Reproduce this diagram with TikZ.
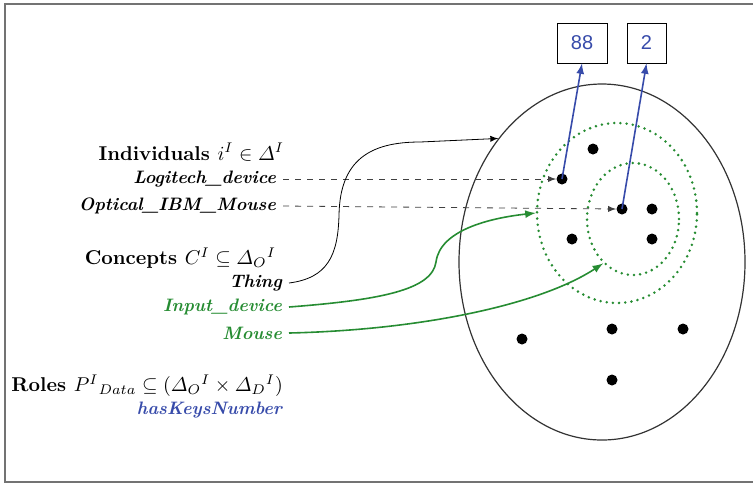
\documentclass[tikz,border=0pt]{standalone}
\usepackage{amsmath}
\usepackage{fontspec}
\newfontfamily\valuefont{Liberation Sans}
\usetikzlibrary{shapes.geometric,arrows,positioning}
\definecolor{conceptgreen}{RGB}{38,140,50}
\definecolor{rolesblue}{RGB}{55,75,170}
\tikzset{dot/.style={circle,fill=black,draw=none,minimum size=5.5pt,inner sep=0pt},
         heading/.style={anchor=east,font=\bfseries},
         member/.style={anchor=east,font=\small\bfseries\itshape},
         valuebox/.style={rectangle,draw,text=rolesblue,font=\valuefont,minimum height=20pt,inner sep=2pt},
         domain set/.style={ellipse,draw=black!80,semithick,inner sep=0pt},
         concept set/.style={ellipse,draw=conceptgreen,line width=1.4pt,dash pattern=on 0pt off 3.1pt,line cap=round,inner sep=0pt},
         instance edge/.style={dashed,black!75,-latex},
         concept edge/.style={conceptgreen,thick,-latex},
         role edge/.style={rolesblue,thick,-latex},
}

\begin{document}
\begin{tikzpicture}[x=0.5pt,y=-0.5pt]
\useasboundingbox (0,0) rectangle (753,484);
% open frame
\draw[black!55,line width=1pt] (753,3.5) -- (4.5,3.5) -- (4.5,482) -- (753,482);

% interpretation domain and concept extensions
\node[domain set,minimum width=143pt,minimum height=178pt] (domain) at (602,262) {};
\node[concept set,minimum width=80pt,minimum height=90pt] (input set) at (617,213) {};
\node[concept set,minimum width=46pt,minimum height=56pt] (mouse set) at (633,219) {};

% individuals
\node[dot] (d1) at (593,149) {};
\node[dot] (logi dot) at (562,179) {};
\node[dot] (ibm dot) at (622,209) {};
\node[dot] (d4) at (652,209) {};
\node[dot] (d5) at (572,239) {};
\node[dot] (d6) at (652,239) {};
\node[dot] (d7) at (522,339) {};
\node[dot] (d8) at (612,329) {};
\node[dot] (d9) at (683,329) {};
\node[dot] (d10) at (612,380) {};

% data values
\node[valuebox,minimum width=25pt] (v88) at (582,43) {88};
\node[valuebox,minimum width=19.5pt] (v2) at (646.5,43) {2};

% labels on the left
\node[heading] (ind) at (291,152) {Individuals $i^I\in\varDelta^I$};
\node[member] (logi) at (283,179) {Logitech\_device};
\node[member] (ibm) at (283,206) {Optical\_IBM\_Mouse};
\node[heading] (conc) at (283,258) {Concepts $C^I\subseteq\varDelta_O{}^I$};
\node[member] (thing) at (289,283) {Thing};
\node[member,text=conceptgreen] (input) at (289,307) {Input\_device};
\node[member,text=conceptgreen] (mouse) at (289,333) {Mouse};
\node[heading] (roles) at (290,386) {Roles $P^I{}_{Data}\subseteq(\varDelta_O{}^I\times\varDelta_D{}^I)$};
\node[member,text=rolesblue] (haskeys) at (289,410) {hasKeysNumber};

% connectors
\draw[instance edge] (logi.east) -- (logi dot.west);
\draw[instance edge] (ibm.east) -- (ibm dot.west);
\draw[-latex] (thing.east) .. controls (328,278) and (338,255) .. (339,215)
    .. controls (340,160) and (370,142) .. (420,142) -- (domain.130);
\draw[concept edge] (input.east) .. controls (380,300) and (432,290) .. (436,262)
    .. controls (440,230) and (490,218) .. (input set.180);
\draw[concept edge] (mouse.east) .. controls (420,330) and (540,305) .. (mouse set.236);
\draw[role edge] (logi dot.center) -- (v88.south);
\draw[role edge] (ibm dot.center) -- (v2.south);
\end{tikzpicture}
\end{document}
